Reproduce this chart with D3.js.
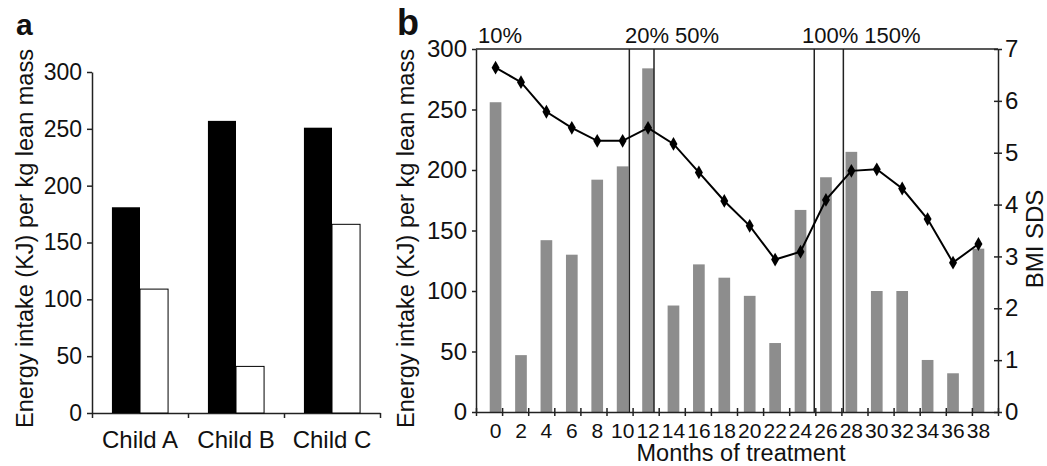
<!DOCTYPE html>
<html>
<head>
<meta charset="utf-8">
<script src="https://cdn.jsdelivr.net/npm/d3@7"></script>
<style>
  body { margin: 0; background: #fff; }
  text { font-family: "Liberation Sans", Arial, Helvetica, sans-serif; fill: #111; }
</style>
</head>
<body>
<svg id="chart" width="1047" height="466"></svg>
<script>
// panel a: energy intake per child, before (black) and after (white)
const children = ["Child A", "Child B", "Child C"];
const intakeBefore = [181, 257, 251];
const intakeAfter = [109, 41, 166];
const intakeTicks = [0, 50, 100, 150, 200, 250, 300];

// panel b: monthly intake (bars) and BMI SDS (line)
const months = [0, 2, 4, 6, 8, 10, 12, 14, 16, 18, 20, 22, 24, 26, 28, 30, 32, 34, 36, 38];
const monthlyIntake = [256, 47, 142, 130, 192, 203, 284, 88, 122, 111, 96, 57, 167, 194, 215, 100, 100, 43, 32, 135];
const bmiSds = [6.64, 6.36, 5.79, 5.48, 5.23, 5.23, 5.48, 5.17, 4.62, 4.07, 3.59, 2.94, 3.09, 4.09, 4.65, 4.68, 4.31, 3.72, 2.88, 3.24];
const sdsTicks = [0, 1, 2, 3, 4, 5, 6, 7];
const doseLabels = ["10%", "20%", "50%", "100%", "150%"];
const doseChangeMonths = [10.75, 12.64, 24.92, 27.15];

const svg = d3.select("#chart");
const yTitle = "Energy intake (KJ) per kg lean mass";

drawPanelA();
drawPanelB();

/** PANEL A **/
function drawPanelA() {
  const left = 92, right = 380, top = 72, bottom = 413;

  const x = d3.scaleBand().domain(children).range([left, right]);
  const xSub = d3.scaleBand().domain(["before", "after"]).range([0, x.bandwidth()]).paddingOuter(0.71);
  const y = d3.scaleLinear().domain([0, 300]).range([bottom, top]);

  const yAxis = svg.append("g")
    .attr("transform", `translate(${left},0)`)
    .call(d3.axisLeft(y).tickValues(intakeTicks).tickSize(5).tickPadding(5).tickSizeOuter(0));
  yAxis.selectAll("text").style("font-size", "23px");

  // tick marks at the category boundaries
  const xb = d3.scaleLinear().domain([0, children.length]).range([left, right]);
  svg.append("g")
    .attr("transform", `translate(0,${bottom})`)
    .call(d3.axisBottom(xb).tickValues(d3.range(children.length + 1)).tickFormat("").tickSize(5).tickSizeOuter(0));

  const xAxis = svg.append("g")
    .attr("transform", `translate(0,${bottom})`)
    .call(d3.axisBottom(x).tickSize(0).tickPadding(18));
  xAxis.select(".domain").remove();
  xAxis.selectAll("text").style("font-size", "24px");

  const rows = children.map((c, i) => ({ child: c, before: intakeBefore[i], after: intakeAfter[i] }));

  svg.append("g").selectAll("rect")
    .data(rows).join("rect")
    .attr("x", d => x(d.child) + xSub("before"))
    .attr("y", d => y(d.before))
    .attr("width", xSub.bandwidth())
    .attr("height", d => y(0) - y(d.before))
    .attr("fill", "#000");

  svg.append("g").selectAll("rect")
    .data(rows).join("rect")
    .attr("x", d => x(d.child) + xSub("after"))
    .attr("y", d => y(d.after))
    .attr("width", xSub.bandwidth())
    .attr("height", d => y(0) - y(d.after))
    .attr("fill", "#fff")
    .attr("stroke", "#000")
    .attr("stroke-width", 1);

  svg.append("text")
    .attr("text-anchor", "middle")
    .attr("transform", `translate(33,238.5) rotate(-90)`)
    .style("font-size", "23.5px")
    .text(yTitle);

  svg.append("text")
    .attr("x", 16).attr("y", 35)
    .style("font-size", "30px")
    .style("font-weight", "bold")
    .text("a");
}

/** PANEL B **/
function drawPanelB() {
  const left = 476, right = 998, top = 49, bottom = 412;

  const x = d3.scaleBand().domain(months).range([left, right]).padding(0.54);
  const xm = d3.scaleLinear().domain([-1, 39]).range([left, right]);
  const y = d3.scaleLinear().domain([0, 300]).range([bottom, top]);
  const yR = d3.scaleLinear().domain([0, 7]).range([bottom, top]);

  // bars
  svg.append("g").selectAll("rect")
    .data(months).join("rect")
    .attr("x", m => x(m))
    .attr("y", (m, i) => y(monthlyIntake[i]))
    .attr("width", x.bandwidth())
    .attr("height", (m, i) => y(0) - y(monthlyIntake[i]))
    .attr("fill", "#8d8d8d");

  // dose change lines
  svg.append("g").selectAll("line")
    .data(doseChangeMonths).join("line")
    .attr("x1", d => xm(d)).attr("x2", d => xm(d))
    .attr("y1", top).attr("y2", bottom)
    .attr("stroke", "#222")
    .attr("stroke-width", 1.5);

  // frame top
  svg.append("line")
    .attr("x1", left).attr("x2", right)
    .attr("y1", top).attr("y2", top)
    .attr("stroke", "#222")
    .attr("stroke-width", 1.5);

  // axes
  const yAxis = svg.append("g")
    .attr("transform", `translate(${left},0)`)
    .call(d3.axisLeft(y).tickValues(intakeTicks).tickSize(4).tickPadding(5).tickSizeOuter(0));
  yAxis.selectAll("text").style("font-size", "24px");

  const yAxisR = svg.append("g")
    .attr("transform", `translate(${right},0)`)
    .call(d3.axisRight(yR).tickValues(sdsTicks).tickFormat(d3.format("d"))
      .tickSize(4).tickPadding(3).tickSizeOuter(0));
  yAxisR.selectAll(".tick line").attr("x1", -4);
  yAxisR.selectAll("text").style("font-size", "24px");

  const bounds = d3.range(-1, 40, 2);
  const xTicks = svg.append("g")
    .attr("transform", `translate(0,${bottom})`)
    .call(d3.axisBottom(xm).tickValues(bounds).tickFormat("").tickSize(4).tickSizeOuter(0));
  xTicks.selectAll(".tick line").attr("y1", -4);

  const xAxis = svg.append("g")
    .attr("transform", `translate(0,${bottom})`)
    .call(d3.axisBottom(x).tickSize(0).tickPadding(11));
  xAxis.select(".domain").remove();
  xAxis.selectAll("text").style("font-size", "21px");

  svg.selectAll(".domain, .tick line").attr("stroke", "#222").attr("stroke-width", 1.5);

  // BMI SDS line
  const pts = months.map((m, i) => ({ m, v: bmiSds[i] }));
  const line = d3.line()
    .x(d => x(d.m) + x.bandwidth() / 2)
    .y(d => yR(d.v));

  svg.append("path")
    .datum(pts)
    .attr("fill", "none")
    .attr("stroke", "#000")
    .attr("stroke-width", 2)
    .attr("d", line);

  svg.append("g").selectAll("path")
    .data(pts).join("path")
    .attr("transform", d => `translate(${x(d.m) + x.bandwidth() / 2},${yR(d.v)})`)
    .attr("d", d3.symbol(d3.symbolDiamond, 55))
    .attr("fill", "#000");

  // dose labels above the frame
  const labelY = 43;
  const lab = svg.append("g").style("font-size", "22px");
  lab.append("text").attr("x", left + 2).attr("y", labelY).text(doseLabels[0]);
  [[1, 1], [3, 3]].forEach(([li, k]) => {
    const xEnd = xm(doseChangeMonths[k]);
    lab.append("text").attr("x", xEnd + 15).attr("y", labelY)
      .attr("text-anchor", "end").text(doseLabels[li]);
    lab.append("text").attr("x", xEnd + 21).attr("y", labelY)
      .text(doseLabels[li + 1]);
  });

  // titles
  svg.append("text")
    .attr("text-anchor", "middle")
    .attr("transform", `translate(414,238.5) rotate(-90)`)
    .style("font-size", "23.5px")
    .text(yTitle);

  svg.append("text")
    .attr("text-anchor", "middle")
    .attr("transform", `translate(1043,239) rotate(-90)`)
    .style("font-size", "24px")
    .text("BMI SDS");

  svg.append("text")
    .attr("x", 741).attr("y", 461)
    .attr("text-anchor", "middle")
    .style("font-size", "23.5px")
    .text("Months of treatment");

  svg.append("text")
    .attr("x", 397).attr("y", 35)
    .style("font-size", "36px")
    .style("font-weight", "bold")
    .text("b");
}
</script>
</body>
</html>
